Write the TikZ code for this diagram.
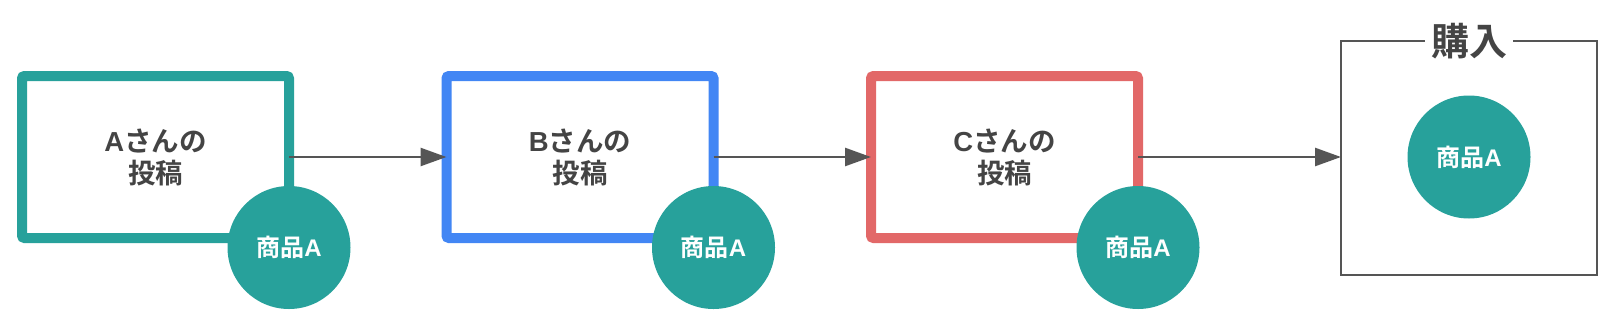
\documentclass[tikz,border=0pt]{standalone}
\usepackage{fontspec}
\setmainfont{Noto Sans CJK JP}[BoldFont={Noto Sans CJK JP Bold}]
\newfontfamily\latn{Liberation Sans}[BoldFont={Liberation Sans Bold}]
\usetikzlibrary{arrows.meta}
\definecolor{tealc}{HTML}{27A19B}
\definecolor{bluec}{HTML}{4286F4}
\definecolor{redc}{HTML}{E26868}
\definecolor{txt}{HTML}{444444}
\definecolor{arr}{HTML}{555555}
\newcommand{\lt}[1]{{\latn\bfseries #1}}
\tikzset{
  postbox/.style={draw, line width=10pt, rounded corners=2.5pt, minimum width=267pt, minimum height=162pt,
    outer sep=0pt, inner sep=0pt, align=center, text=txt, font=\bfseries\fontsize{27.5}{32}\selectfont},
  goods/.style={circle, fill=tealc, minimum size=123pt, inner sep=0pt, outer sep=0pt, text=white,
    font=\bfseries\fontsize{24}{28}\selectfont},
  flow/.style={draw=arr, line width=2.6pt, -{Triangle[length=26pt,width=18pt]}},
  buybox/.style={draw=arr, line width=2pt, minimum width=256pt, minimum height=234pt, outer sep=0pt, inner sep=0pt},
  buytitle/.style={fill=white, inner xsep=6pt, inner ysep=2pt, text=txt, font=\bfseries\fontsize{38}{42}\selectfont}
}
\begin{document}
\begin{tikzpicture}[x=1pt,y=-1pt]
\useasboundingbox (0,0) rectangle (1612,330);
\node[postbox, draw=tealc] (A) at (155.5,157) {\lt{A}さんの\\投稿};
\node[postbox, draw=bluec] (B) at (580,157) {\lt{B}さんの\\投稿};
\node[postbox, draw=redc] (C) at (1004.5,157) {\lt{C}さんの\\投稿};
\node[goods] (gA) at (289,247.5) {商品\lt{A}};
\node[goods] (gB) at (713.5,247.5) {商品\lt{A}};
\node[goods] (gC) at (1138,247.5) {商品\lt{A}};
\node[buybox] (buy) at (1469,158) {};
\node[buytitle] (buyt) at (1469,41) {購入};
\node[goods] (gD) at (1469,157) {商品\lt{A}};
\draw[flow] (A.east) -- (B.west);
\draw[flow] (B.east) -- (C.west);
\draw[flow] (C.east) -- (C.east -| buy.west);
\end{tikzpicture}
\end{document}
